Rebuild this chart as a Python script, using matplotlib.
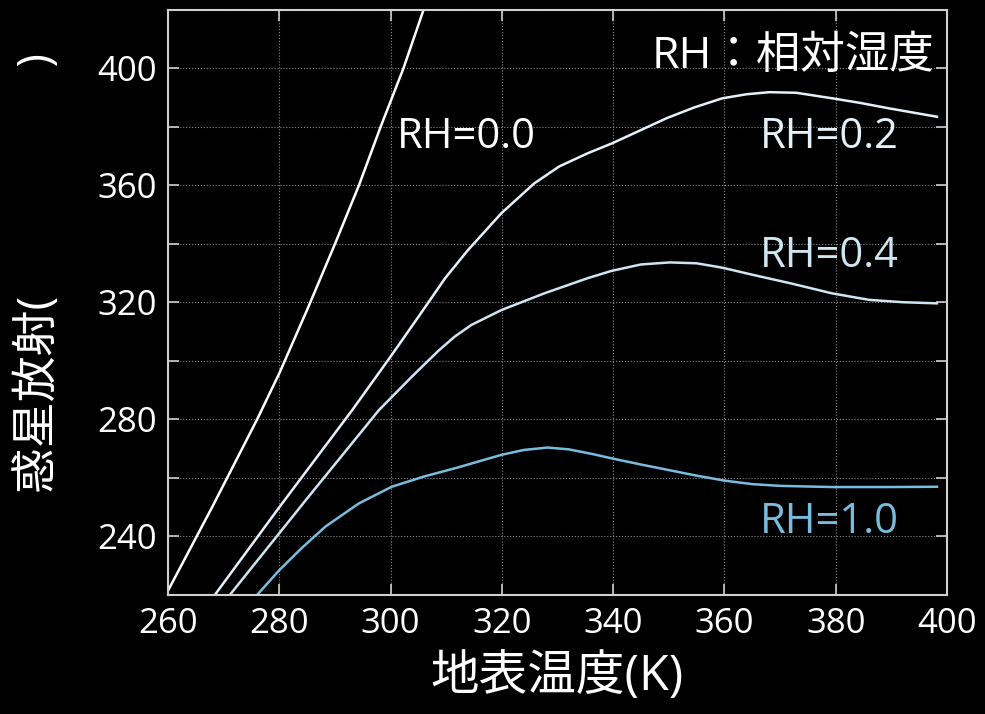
import matplotlib
matplotlib.use("Agg")
import matplotlib.pyplot as plt

plt.rcParams['font.family'] = ['Open Sans', 'Noto Sans CJK JP', 'DejaVu Sans']

# 読み取った値
rh00_T = [260, 268, 276, 280, 285, 290, 294.3, 298.2, 302.3, 306, 310]
rh00_F = [221.5, 250.3, 280, 295.8, 317.5, 340, 360, 380, 400, 420.5, 441]

rh02_T = [268.4, 280, 293.1, 300, 305, 309.8, 313.9, 319.9, 325.8, 330.3, 335.4, 339.8, 344.7, 349.6, 354.6,
          359.6, 364, 368.1, 372.9, 379.4, 384.5, 389.5, 394, 398.2]
rh02_F = [220, 250, 283.2, 301.5, 315.1, 328.3, 337.9, 350.5, 360.7, 366.5, 371, 374.4, 378.7, 383, 386.7,
          389.8, 391.2, 391.9, 391.7, 389.8, 388.2, 386.4, 384.9, 383.5]

rh04_T = [271.1, 285, 297.9, 303.8, 308.6, 311.5, 314.5, 319.9, 327.6, 335.4, 339.7, 345, 350.2, 355, 359.6,
          365, 372, 379.4, 386, 392, 398.2]
rh04_F = [220, 253, 283.2, 294.6, 303.5, 308.3, 312.3, 317.4, 323.1, 328.3, 330.8, 333.0, 333.7, 333.4, 331.9,
          329.5, 326.5, 323.1, 320.9, 320.1, 319.7]

rh10_T = [276, 280, 284, 288.3, 294.3, 300.2, 306, 312.1, 319.9, 324, 328.2, 332, 336, 340, 345, 350,
          355, 360, 365, 370, 379.4, 390, 398.2]
rh10_F = [220, 228.5, 236, 243.4, 251.3, 257, 260.5, 263.6, 267.9, 269.6, 270.4, 269.8, 268.3, 266.6,
          264.6, 262.7, 260.8, 259.1, 257.9, 257.3, 256.9, 256.9, 257]

colors = ['#ffffff', '#e4f1f8', '#cde6f2', '#78bde0']
labels = ['RH=0.0', 'RH=0.2', 'RH=0.4', 'RH=1.0']
label_pos = [(301.1, 376.6), (366.4, 376.6), (366.4, 335.9), (366.4, 245)]

fig = plt.figure(figsize=(9.85, 7.14), dpi=100, facecolor='black')
ax = fig.add_axes([0.1706, 0.1667, 0.7908, 0.8193], facecolor='black')

for T, F, c in zip([rh00_T, rh02_T, rh04_T, rh10_T], [rh00_F, rh02_F, rh04_F, rh10_F], colors):
    ax.plot(T, F, color=c, lw=1.8, solid_joinstyle='round')

for (x, y), s, c in zip(label_pos, labels, colors):
    ax.text(x, y, s, color=c, fontsize=30, ha='left', va='center')

ax.text(397.8, 404, 'RH：相対湿度', color='white', fontsize=32, ha='right', va='center')

ax.set_xlim(260, 399)
ax.set_ylim(220, 420)
ax.set_xticks(range(260, 401, 20))
ax.set_yticks(range(240, 401, 40))
ax.set_yticks(range(220, 421, 20), minor=True)
ax.grid(True, which='both', color='#8a8a8a', ls=':', lw=0.8)

ax.tick_params(which='both', direction='in', top=True, right=True, colors='#d0d0d0',
               length=8, width=1.2, labelcolor='white', labelsize=25)
ax.tick_params(axis='x', pad=9)
ax.tick_params(axis='y', pad=8)
for sp in ax.spines.values():
    sp.set_color('#d0d0d0')
    sp.set_linewidth(1.5)

ax.set_xlabel('地表温度(K)', color='white', fontsize=35, labelpad=8)
ax.set_ylabel('惑星放射(\u3000\u3000\u3000\u3000\u3000)', color='white', fontsize=33)
ax.yaxis.set_label_coords(-0.136, 0.55)

plt.savefig('out.png', dpi=100, facecolor='black')
